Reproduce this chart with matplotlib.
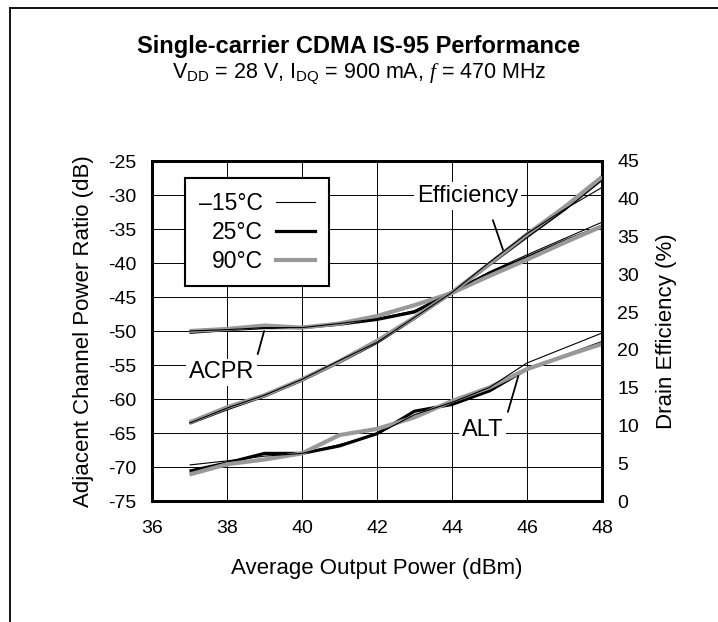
import matplotlib
matplotlib.use("Agg")
import matplotlib.pyplot as plt
from matplotlib.lines import Line2D
import numpy as np

plt.rcParams['font.family'] = ['Liberation Sans', 'DejaVu Sans']
plt.rcParams['mathtext.fontset'] = 'custom'
plt.rcParams['mathtext.rm'] = 'Liberation Sans'
plt.rcParams['mathtext.it'] = 'Liberation Serif:italic'
plt.rcParams['axes.unicode_minus'] = False

# output power (dBm)
pout = [37, 38, 39, 40, 41, 42, 43, 44, 45, 46, 47, 48]

# ACPR (dB), left axis
acpr_m15 = [-50.0, -49.8, -49.5, -49.5, -48.9, -48.2, -47.0, -44.3, -41.3, -38.8, -36.4, -34.0]
acpr_25 = [-50.2, -49.8, -49.5, -49.5, -49.0, -48.3, -47.2, -44.3, -41.5, -39.2, -36.8, -34.6]
acpr_90 = [-50.0, -49.7, -49.2, -49.5, -48.9, -47.8, -46.2, -44.4, -41.9, -39.5, -37.0, -34.6]

# ALT (dB), left axis
alt_m15 = [-69.7, -69.1, -68.4, -68.0, -66.7, -65.2, -62.3, -60.5, -58.3, -54.7, -52.5, -50.3]
alt_25 = [-70.6, -69.4, -68.0, -68.0, -66.9, -65.1, -61.8, -60.8, -58.8, -55.6, -53.7, -51.7]
alt_90 = [-71.1, -69.6, -68.9, -68.0, -65.3, -64.4, -62.7, -60.3, -58.3, -55.6, -53.7, -51.9]

# drain efficiency (%), right axis
eff_m15 = [10.3, 12.3, 14.0, 16.1, 18.6, 21.0, 24.3, 27.6, 31.6, 35.4, 38.6, 41.5]
eff_25 = [10.3, 12.2, 13.9, 16.0, 18.4, 21.0, 24.2, 27.6, 31.3, 35.0, 38.6, 42.6]
eff_90 = [10.4, 12.4, 14.0, 16.1, 18.5, 21.2, 24.3, 27.6, 31.4, 35.3, 38.9, 42.9]

temps = ['\u201315\u00b0C', '25\u00b0C', '90\u00b0C']
styles = [dict(color='black', lw=0.8, zorder=4),
          dict(color='black', lw=2.3, zorder=2),
          dict(color='#999999', lw=3.0, zorder=3)]

fig = plt.figure(figsize=(7.18, 6.22), dpi=100)
ax = fig.add_axes([152 / 718, 1 - 501 / 622, 450 / 718, 340 / 622])
ax2 = ax.twinx()

for st, a, b in zip(styles, [acpr_m15, acpr_25, acpr_90], [alt_m15, alt_25, alt_90]):
    ax.plot(pout, a, solid_capstyle='butt', **st)
    ax.plot(pout, b, solid_capstyle='butt', **st)
for st, e in zip(styles, [eff_m15, eff_25, eff_90]):
    ax2.plot(pout, e, solid_capstyle='butt', **st)

ax.set_xlim(36, 48)
ax.set_ylim(-75, -25)
ax2.set_ylim(0, 45)
ax.set_xticks(np.arange(36, 49, 2))
ax.set_yticks(np.arange(-75, -24, 5))
ax2.set_yticks(np.arange(0, 46, 5))
ax.grid(True, color='black', lw=0.7)
ax.set_axisbelow(True)

for a in (ax, ax2):
    a.tick_params(length=0, labelsize=14, pad=11)
    for s in a.spines.values():
        s.set_linewidth(2.0)
ax.tick_params(axis='x', pad=13.5)

ax.set_xlabel('Average Output Power (dBm)', fontsize=16, labelpad=15)
ax.set_ylabel('Adjacent Channel Power Ratio (dB)', fontsize=16, labelpad=10)
ax2.set_ylabel('Drain Efficiency (%)', fontsize=16, labelpad=12)

# legend
handles = [Line2D([], [], **st) for st in styles]
leg = ax.legend(handles, temps, loc='upper left', bbox_to_anchor=(0.073, 0.95),
                borderaxespad=0, markerfirst=False, fontsize=16.5, fancybox=False,
                framealpha=1, edgecolor='black', handlelength=1.7,
                labelspacing=0.26, borderpad=0.6, handletextpad=0.6)
leg.get_frame().set_linewidth(1.5)
leg.set_zorder(10)

# curve labels
tb = dict(facecolor='white', edgecolor='none', pad=2)
ax.text(44.42, -30.1, 'Efficiency', fontsize=17, ha='center', va='center', bbox=tb, zorder=5)
ax.text(37.85, -56.1, 'ACPR', fontsize=17, ha='center', va='center', bbox=tb, zorder=5)
ax.text(44.82, -64.5, 'ALT', fontsize=17, ha='center', va='center', bbox=tb, zorder=5)
lead = dict(arrowstyle='-', lw=1.3, color='black', shrinkA=0, shrinkB=0)
ax.annotate('', xy=(45.4, -38.7), xytext=(45.09, -33.7), arrowprops=lead)
ax.annotate('', xy=(38.99, -50.0), xytext=(38.82, -53.4), arrowprops=lead)
ax.annotate('', xy=(45.77, -56.6), xytext=(45.49, -61.9), arrowprops=lead)

fig.text(0.5, 1 - 47 / 622, 'Single-carrier CDMA IS-95 Performance',
         fontsize=17, fontweight='bold', ha='center', va='center')
fig.text(0.5, 1 - 74 / 622, r'V$_\mathrm{DD}$ = 28 V, I$_\mathrm{DQ}$ = 900 mA, $f$ = 470 MHz',
         fontsize=15.5, ha='center', va='center')

# outer frame (top and left edges)
fig.add_artist(Line2D([10 / 718, 1], [1 - 8 / 622, 1 - 8 / 622], color='black', lw=1.3,
                      transform=fig.transFigure))
fig.add_artist(Line2D([10 / 718, 10 / 718], [0, 1 - 8 / 622], color='black', lw=1.3,
                      transform=fig.transFigure))

fig.savefig('out.png', dpi=100)
